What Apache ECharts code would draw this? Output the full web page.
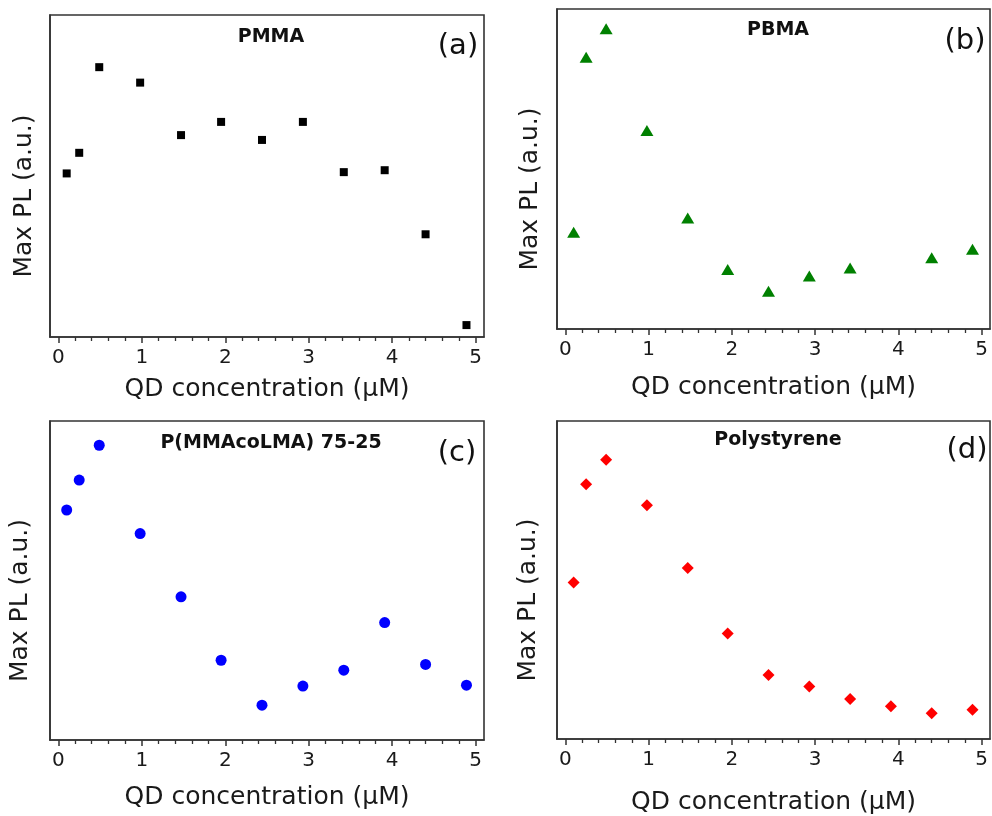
<!DOCTYPE html>
<html>
<head>
<meta charset="utf-8">
<script src="https://cdn.jsdelivr.net/npm/echarts@6/dist/echarts.min.js"></script>
<style>html,body{margin:0;padding:0;background:#fff}#c{width:992px;height:816px}</style>
</head>
<body>
<div id="c"></div>
<script>
// ---- data (x: QD concentration in µM, y: Max PL in arbitrary units 0-100) ----
var xFull = [0.1, 0.25, 0.49, 0.98, 1.47, 1.95, 2.44, 2.93, 3.42, 3.91, 4.4, 4.89];
var xPBMA = [0.1, 0.25, 0.49, 0.98, 1.47, 1.95, 2.44, 2.93, 3.42, 4.4, 4.89];
var pmma = [50.8, 57.2, 83.8, 79.0, 62.7, 66.8, 61.2, 66.8, 51.2, 51.8, 31.9, 3.7];
var pbma = [30.2, 84.9, 93.8, 62.0, 34.7, 18.6, 11.8, 16.6, 19.1, 22.3, 24.9];
var copolymer = [72.1, 81.5, 92.4, 64.7, 44.9, 25.0, 10.9, 16.9, 21.9, 36.8, 23.7, 17.2];
var polystyrene = [49.2, 80.1, 87.8, 73.5, 53.8, 33.2, 20.1, 16.5, 12.6, 10.3, 8.1, 9.2];
var majorTicks = [0, 1, 2, 3, 4, 5];
var minorTicks = [0.2,0.4,0.6,0.8,1.2,1.4,1.6,1.8,2.2,2.4,2.6,2.8,3.2,3.4,3.6,3.8,4.2,4.4,4.6,4.8];
var titles = ['PMMA', 'PBMA', 'P(MMAcoLMA) 75-25', 'Polystyrene'];
var letters = ['(a)', '(b)', '(c)', '(d)'];
var xName = 'QD concentration (\u03bcM)';
var yName = 'Max PL (a.u.)';

var FONT = 'DejaVu Sans';
var panels = [
  {grid:{left:50, top:15, width:434, height:322}, xs:xFull, ys:pmma, symbol:'rect', size:8, color:'#000000', xGap:40, yGap:13,
   tx:271, ty:37, lx:458, ly:46},
  {grid:{left:557, top:9, width:433, height:320}, xs:xPBMA, ys:pbma, symbol:'triangle', size:[13,11], color:'#008000', xGap:46, yGap:14,
   tx:778, ty:30, lx:965, ly:41},
  {grid:{left:50, top:421, width:434, height:319}, xs:xFull, ys:copolymer, symbol:'circle', size:11, color:'#0000ff', xGap:45, yGap:17,
   tx:271, ty:443, lx:457, ly:453},
  {grid:{left:557, top:421, width:433, height:318}, xs:xFull, ys:polystyrene, symbol:'diamond', size:12, color:'#ff0000', xGap:51, yGap:16,
   tx:778, ty:440, lx:967, ly:450}
];

var grids = [], xAxes = [], yAxes = [], series = [], graphics = [];
panels.forEach(function(p, i){
  var g = Object.assign({show:true, borderColor:'#333', borderWidth:1.6, backgroundColor:'transparent'}, p.grid);
  grids.push(g);
  xAxes.push({
    type:'value', gridIndex:i, min:-0.1, max:5.1, position:'bottom',
    axisLine:{show:true, onZero:false, lineStyle:{color:'#333', width:1.6}},
    axisTick:{show:true, inside:false, length:6, customValues:majorTicks, lineStyle:{color:'#333', width:1.5}},
    axisLabel:{show:true, customValues:majorTicks, margin:11, fontFamily:FONT, fontSize:20, color:'#1a1a1a',
      formatter:function(v){return String(v);}},
    splitLine:{show:false},
    name:xName, nameLocation:'middle', nameGap:p.xGap,
    nameTextStyle:{fontFamily:FONT, fontSize:25, color:'#1a1a1a'}
  });
  xAxes.push({
    type:'value', gridIndex:i, min:-0.1, max:5.1, position:'bottom',
    axisLine:{show:false, onZero:false},
    axisTick:{show:true, inside:false, length:4, customValues:minorTicks, lineStyle:{color:'#333', width:1.3}},
    axisLabel:{show:false},
    splitLine:{show:false}
  });
  yAxes.push({
    type:'value', gridIndex:i, min:0, max:100,
    axisLine:{show:true, onZero:false, lineStyle:{color:'#333', width:1.6}},
    axisTick:{show:false}, axisLabel:{show:false}, splitLine:{show:false},
    name:yName, nameLocation:'middle', nameGap:p.yGap,
    nameTextStyle:{fontFamily:FONT, fontSize:25, color:'#1a1a1a', padding:[0,40,0,0]}
  });
  series.push({
    type:'scatter', xAxisIndex:i*2, yAxisIndex:i,
    symbol:p.symbol, symbolSize:p.size,
    itemStyle:{color:p.color, opacity:1},
    emphasis:{disabled:true},
    data:p.xs.map(function(x, k){return [x, p.ys[k]];})
  });
  graphics.push({type:'text', x:p.tx, y:p.ty, style:{text:titles[i], font:'bold 19px "DejaVu Sans"', fill:'#111', textAlign:'center', textVerticalAlign:'middle'}});
  graphics.push({type:'text', x:p.lx, y:p.ly, style:{text:letters[i], font:'29px "DejaVu Sans"', fill:'#111', textAlign:'center', textVerticalAlign:'middle'}});
});

var chart = echarts.init(document.getElementById('c'), null, {renderer:'canvas'});
chart.setOption({
  animation:false,
  backgroundColor:'#ffffff',
  grid:grids, xAxis:xAxes, yAxis:yAxes, series:series, graphic:graphics
});
</script>
</body>
</html>
